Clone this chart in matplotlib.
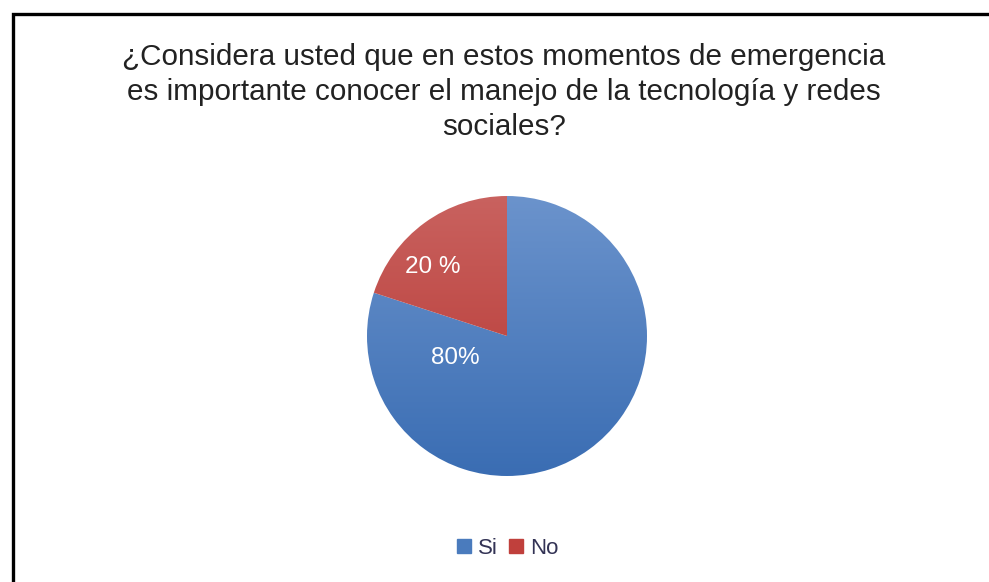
import matplotlib.pyplot as plt
from matplotlib.patches import Rectangle
from matplotlib.colors import LinearSegmentedColormap
import numpy as np

plt.rcParams['font.family'] = ['Liberation Sans', 'DejaVu Sans']

title = ('¿Considera usted que en estos momentos de emergencia\n'
         'es importante conocer el manejo de la tecnología y redes\n'
         'sociales?')
categories = ['Si', 'No']
values = [80, 20]
value_labels = ['80%', '20 %']
# light (top) / dark (bottom) shade of each slice
shades = [('#6b93cc', '#3a6db3'), ('#c9625f', '#b5322e')]
legend_colors = ['#4a7bbd', '#c0403c']
label_pos = [(-0.37, -0.16), (-0.53, 0.49)]

fig = plt.figure(figsize=(9.89, 5.82), dpi=100)
W, H = 989, 582

# frame (cut off on the right and bottom)
fig.patches.append(Rectangle((12.5 / W, -0.1), 1.2, 1 - 14 / H + 0.1,
                             transform=fig.transFigure, fill=False,
                             edgecolor='black', linewidth=2.4))

fig.text(504 / W, 1 - 92 / H, title, ha='center', va='center',
         fontsize=21.3, color='#222222', linespacing=1.33)

cx, cy, r = 507, 336, 140
ax = fig.add_axes([(cx - r) / W, (H - cy - r) / H, 2 * r / W, 2 * r / H])
wedges, _ = ax.pie(values, startangle=90, counterclock=False, radius=1,
                   wedgeprops=dict(linewidth=0))
ax.set_xlim(-1, 1)
ax.set_ylim(-1, 1)
ax.set_aspect('auto')

grad = np.linspace(0, 1, 256).reshape(-1, 1)
for w, (light, dark) in zip(wedges, shades):
    cmap = LinearSegmentedColormap.from_list('g', [light, dark])
    w.set_facecolor('none')
    im = ax.imshow(grad, cmap=cmap, extent=(-1, 1, -1, 1), aspect='auto',
                   origin='upper', zorder=1)
    im.set_clip_path(w)

for lab, (x, y) in zip(value_labels, label_pos):
    ax.text(x, y, lab, ha='center', va='center', color='white',
            fontsize=17.5, zorder=3)

handles = [Rectangle((0, 0), 1, 1, color=c) for c in legend_colors]
fig.legend(handles, categories, loc='center', bbox_to_anchor=(508 / W, 1 - 548 / H),
           ncol=2, frameon=False, fontsize=16, handlelength=0.6, handleheight=0.6,
           handletextpad=0.35, columnspacing=0.5, labelcolor='#333355')

fig.savefig('out.png', dpi=100)
